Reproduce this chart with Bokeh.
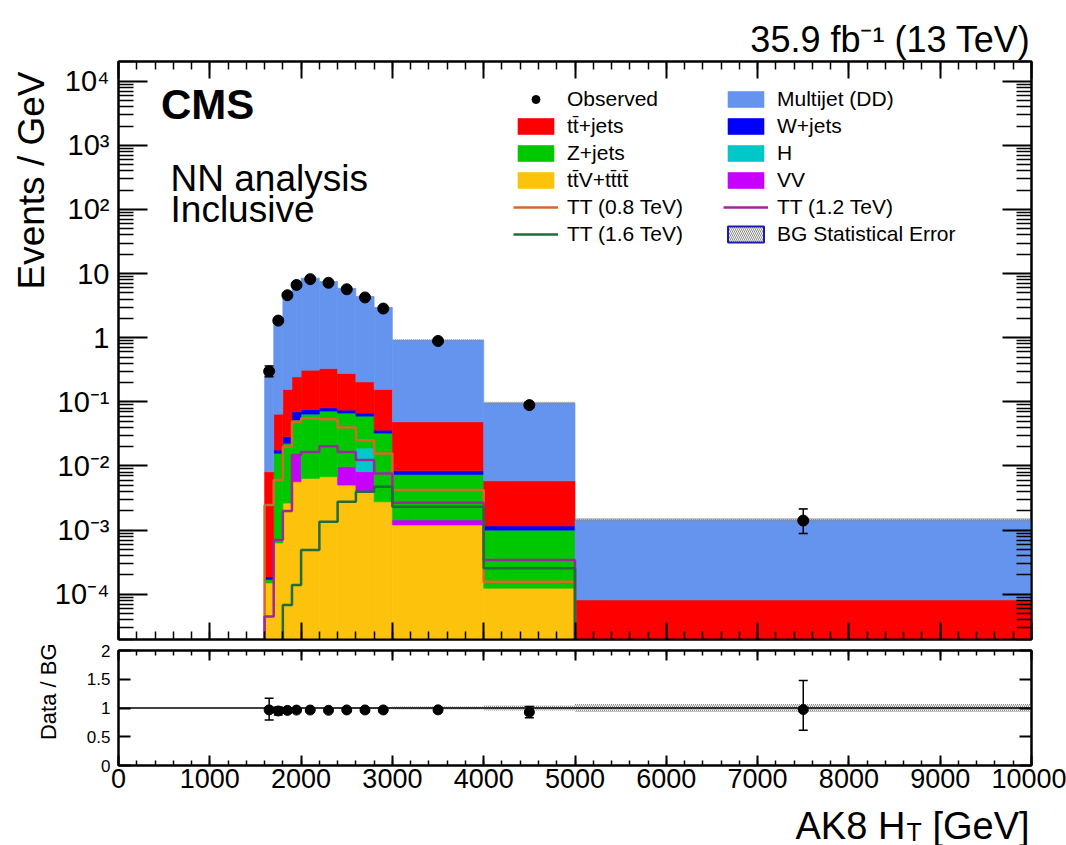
import numpy as np
from bokeh.plotting import figure
from bokeh.models import (Range1d, LinearAxis, LogAxis, FixedTicker, Legend, LegendItem,
                          Label, Title, Whisker, TeeHead, ColumnDataSource, Span)
from bokeh.layouts import column
from bokeh.embed import file_html
from bokeh.resources import INLINE

FONT = "Liberation Sans"

# AK8 HT binning [GeV]
bin_edges = [1600, 1700, 1800, 1900, 2000, 2200, 2400, 2600, 2800, 3000, 4000, 5000, 10000]

# Background expectations [events / GeV], stacked bottom -> top
ttv_tttt = [1.5e-4, 6.3e-4, 2.64e-3, 5.67e-3, 6.41e-3, 6.79e-3, 5.04e-3, 3.96e-3, 2.77e-3, 1.20e-3, 1.24e-4, 0]
diboson = [0, 0, 0, 9.1e-3, 0, 0, 4.7e-3, 4.2e-3, 0, 2.4e-4, 0, 0]
higgs = [0, 0, 0, 0, 0, 0, 0, 1.09e-2, 0, 0, 0, 0]
zjets = [2.0e-5, 1.51e-2, 1.99e-2, 3.71e-2, 5.79e-2, 6.48e-2, 5.70e-2, 4.08e-2, 2.97e-2, 5.91e-3, 8.76e-4, 0]
wjets = [1.6e-5, 2.0e-3, 6.0e-3, 1.79e-2, 1.19e-2, 9.1e-3, 7.6e-3, 6.9e-3, 3.7e-3, 1.07e-3, 1.6e-4, 0]
ttjets = [7.94e-3, 4.66e-2, 0.1275, 0.175, 0.236, 0.250, 0.203, 0.138, 0.120, 4.04e-2, 4.72e-3, 8.15e-5]
multijet = [0.302, 1.886, 4.644, 6.655, 8.188, 7.169, 5.623, 4.195, 2.794, 0.871, 0.0901, 1.368e-3]
bg_stat_rel = [0.02, 0.015, 0.012, 0.01, 0.01, 0.01, 0.012, 0.014, 0.016, 0.025, 0.045, 0.07]

# Observed data [events / GeV] with relative uncertainties
observed = [0.30, 1.85, 4.6, 6.65, 8.2, 7.2, 5.7, 4.25, 2.85, 0.89, 0.089, 1.41e-3]
obs_err_up = [0.21, 0.074, 0.047, 0.039, 0.025, 0.026, 0.030, 0.034, 0.042, 0.034, 0.106, 0.52]
obs_err_dn = [0.18, 0.074, 0.047, 0.039, 0.025, 0.026, 0.030, 0.034, 0.042, 0.034, 0.106, 0.37]

# Signal hypotheses [events / GeV]
tt_800 = [2.46e-3, 6.03e-3, 1.99e-2, 4.88e-2, 5.57e-2, 5.37e-2, 3.99e-2, 2.53e-2, 1.57e-2, 4.22e-3, 1.57e-4, 0]
tt_1200 = [4.5e-5, 7.0e-4, 1.99e-3, 1.48e-2, 1.65e-2, 2.04e-2, 1.66e-2, 1.24e-2, 7.67e-3, 2.67e-3, 3.42e-4, 0]
tt_1600 = [0, 0, 6.8e-5, 1.40e-4, 4.9e-4, 1.35e-3, 2.77e-3, 3.96e-3, 4.74e-3, 2.31e-3, 2.54e-4, 0]

y_major = [1e-4, 1e-3, 1e-2, 1e-1, 1, 10, 100, 1000, 10000]
y_major_labels = ["10⁻⁴", "10⁻³", "10⁻²", "10⁻¹", "1", "10", "10²", "10³", "10⁴"]
x_major = list(range(0, 10001, 1000))
ratio_ticks = [0, 0.5, 1, 1.5, 2]
ratio_labels = ["0", "0.5", "1", "1.5", "2"]

FLOOR = 1e-9
edges = np.array(bin_edges, dtype=float)
left, right = edges[:-1], edges[1:]
centers = 0.5 * (left + right)

layers = [
    ("tt̄V+tt̄tt̄", ttv_tttt, "#fcc20c"),
    ("VV", diboson, "#c800ff"),
    ("H", higgs, "#00c8c8"),
    ("Z+jets", zjets, "#00c800"),
    ("W+jets", wjets, "#0000ff"),
    ("tt̄+jets", ttjets, "#ff0000"),
    ("Multijet (DD)", multijet, "#6494ed"),
]

p = figure(width=1066, height=641, y_axis_type="log",
           x_range=Range1d(0, 10000), y_range=Range1d(1.97e-5, 2.03e4),
           output_backend="svg", toolbar_location=None,
           min_border_left=118, min_border_right=35, min_border_top=61, min_border_bottom=2)
p.grid.visible = False
p.outline_line_color = "black"
p.outline_line_width = 2

# stacked backgrounds
renderers = {}
cum = np.zeros(len(left))
for name, vals, color in layers:
    v = np.array(vals, dtype=float)
    top = cum + v
    bottom = np.where(cum > 0, cum, FLOOR)
    mask = v > 0
    src = ColumnDataSource(dict(left=left[mask], right=right[mask],
                                bottom=bottom[mask], top=top[mask]))
    renderers[name] = p.quad(left="left", right="right", bottom="bottom", top="top",
                             source=src, fill_color=color, line_color=color, line_width=0.6)
    cum = top
total_bg = cum.copy()

# background statistical uncertainty
err = np.array(bg_stat_rel)
band = dict(left=left, right=right, bottom=total_bg * (1 - err), top=total_bg * (1 + err))
hatch = dict(hatch_pattern="\\", hatch_color="#8a8a8a", hatch_scale=4, hatch_weight=1)
p.quad(**band, fill_alpha=0, line_color=None, **hatch)
err_legend = p.quad(**band, fill_color="white", line_color="#1a1ab0", line_width=2,
                    visible=False, **hatch)


def step_path(vals):
    xs, ys = [edges[0]], [FLOOR]
    for i, v in enumerate(vals):
        y = v if v > 0 else FLOOR
        xs += [edges[i], edges[i + 1]]
        ys += [y, y]
    xs.append(edges[-1])
    ys.append(FLOOR)
    return xs, ys


sig_r = {}
for name, vals, color in [("TT (0.8 TeV)", tt_800, "#d26a2a"),
                          ("TT (1.2 TeV)", tt_1200, "#a0269f"),
                          ("TT (1.6 TeV)", tt_1600, "#236b3b")]:
    xs, ys = step_path(vals)
    sig_r[name] = p.line(xs, ys, line_color=color, line_width=2.5)

# observed data
obs = np.array(observed)
up = obs * (1 + np.array(obs_err_up))
dn = obs * (1 - np.array(obs_err_dn))
obs_src = ColumnDataSource(dict(x=centers, y=obs, upper=up, lower=dn))
p.add_layout(Whisker(base="x", upper="upper", lower="lower", source=obs_src, dimension="height",
                     line_color="black", line_width=1.5, level="overlay",
                     upper_head=TeeHead(size=9, line_width=1.5, line_color="black"),
                     lower_head=TeeHead(size=9, line_width=1.5, line_color="black")))
obs_r = p.scatter("x", "y", source=obs_src, size=11, color="black")


# axes: ticks inside on all four sides
def style_axis(ax, major_in, minor_in, labels=True, size="25px"):
    ax.major_tick_in = major_in
    ax.major_tick_out = 0
    ax.minor_tick_in = minor_in
    ax.minor_tick_out = 0
    ax.axis_line_width = 2
    ax.major_tick_line_width = 2
    ax.minor_tick_line_width = 1.5
    ax.major_label_text_font = FONT
    if labels:
        ax.major_label_text_font_size = size
        ax.major_label_text_color = "black"
    else:
        ax.major_label_text_font_size = "4px"
        ax.major_label_text_color = None
        ax.major_label_standoff = 0


x_ticker = FixedTicker(ticks=x_major, minor_ticks=list(range(0, 10001, 200)))
y_minor = [k * 10.0 ** d for d in range(-5, 5) for k in range(2, 10)]
y_ticker = FixedTicker(ticks=y_major, minor_ticks=y_minor)

p.xaxis.ticker = x_ticker
style_axis(p.xaxis[0], 17, 8, labels=False)
p.add_layout(LinearAxis(ticker=x_ticker), "above")
style_axis(p.above[0], 17, 8, labels=False)
p.yaxis.ticker = y_ticker
p.yaxis.major_label_overrides = dict(zip(y_major, y_major_labels))
style_axis(p.yaxis[0], 29, 15, labels=True, size="29px")
p.yaxis.major_label_standoff = 9
p.add_layout(LogAxis(ticker=y_ticker), "right")
style_axis(p.right[0], 29, 15, labels=False)


# legend in two columns
def make_legend(items, x):
    return Legend(items=items, location=(x, 392), orientation="vertical",
                  label_text_font=FONT, label_text_font_size="21px", label_text_color="black",
                  glyph_width=45, glyph_height=20, label_height=27, spacing=0,
                  label_standoff=9, padding=0, margin=0, inactive_fill_alpha=0,
                  border_line_alpha=0, background_fill_alpha=0)


col1 = [LegendItem(label="Observed", renderers=[obs_r]),
        LegendItem(label="tt̄+jets", renderers=[renderers["tt̄+jets"]]),
        LegendItem(label="Z+jets", renderers=[renderers["Z+jets"]]),
        LegendItem(label="tt̄V+tt̄tt̄", renderers=[renderers["tt̄V+tt̄tt̄"]]),
        LegendItem(label="TT (0.8 TeV)", renderers=[sig_r["TT (0.8 TeV)"]]),
        LegendItem(label="TT (1.6 TeV)", renderers=[sig_r["TT (1.6 TeV)"]])]
col2 = [LegendItem(label="Multijet (DD)", renderers=[renderers["Multijet (DD)"]]),
        LegendItem(label="W+jets", renderers=[renderers["W+jets"]]),
        LegendItem(label="H", renderers=[renderers["H"]]),
        LegendItem(label="VV", renderers=[renderers["VV"]]),
        LegendItem(label="TT (1.2 TeV)", renderers=[sig_r["TT (1.2 TeV)"]]),
        LegendItem(label="BG Statistical Error", renderers=[err_legend])]
p.add_layout(make_legend(col1, 395))
p.add_layout(make_legend(col2, 605))

# texts inside the frame
p.add_layout(Label(x=465, y=4300, text="CMS", text_font=FONT, text_font_style="bold",
                   text_font_size="42px", text_color="black", text_baseline="alphabetic"))
p.add_layout(Label(x=570, y=305, text="NN analysis", text_font=FONT, text_color="black",
                   text_font_size="37px", text_baseline="alphabetic"))
p.add_layout(Label(x=570, y=100, text="Inclusive", text_font=FONT, text_color="black",
                   text_font_size="37px", text_baseline="alphabetic"))

# titles outside the frame
p.add_layout(Title(text="35.9 fb⁻¹ (13 TeV)", align="right", text_font=FONT,
                   text_font_size="36px", text_font_style="normal", text_color="black",
                   standoff=3, offset=1), "above")
p.add_layout(Title(text="Events / GeV", align="right", text_font=FONT,
                   text_font_size="37px", text_font_style="normal", text_color="black",
                   text_line_height=0.55, standoff=0, offset=10), "left")

# ratio panel
r = figure(width=1066, height=159, x_range=Range1d(0, 10000), y_range=Range1d(0, 2),
           output_backend="svg", toolbar_location=None,
           min_border_left=118, min_border_right=35, min_border_top=9, min_border_bottom=35)
r.grid.visible = False
r.outline_line_color = "black"
r.outline_line_width = 2

r.quad(left=left, right=right, bottom=1 - err, top=1 + err, fill_alpha=0, line_color=None,
       **hatch)
r.add_layout(Span(location=1, dimension="width", line_color="black", line_width=1.5))

ratio = obs / total_bg
rsrc = ColumnDataSource(dict(x=centers, y=ratio, upper=up / total_bg, lower=dn / total_bg))
r.add_layout(Whisker(base="x", upper="upper", lower="lower", source=rsrc, dimension="height",
                     line_color="black", line_width=1.5, level="overlay",
                     upper_head=TeeHead(size=9, line_width=1.5, line_color="black"),
                     lower_head=TeeHead(size=9, line_width=1.5, line_color="black")))
r.scatter("x", "y", source=rsrc, size=10, color="black")

r.xaxis.ticker = x_ticker
r.xaxis.major_label_overrides = {t: str(t) for t in x_major}
style_axis(r.xaxis[0], 10, 5, labels=True, size="27px")
r.xaxis.major_label_standoff = 3
r.add_layout(LinearAxis(ticker=x_ticker), "above")
style_axis(r.above[0], 10, 5, labels=False)
ratio_ticker = FixedTicker(ticks=ratio_ticks, minor_ticks=[])
r.yaxis.ticker = ratio_ticker
r.yaxis.major_label_overrides = dict(zip(ratio_ticks, ratio_labels))
style_axis(r.yaxis[0], 12, 0, labels=True, size="17px")
r.yaxis.major_label_standoff = 8
r.add_layout(LinearAxis(ticker=ratio_ticker), "right")
style_axis(r.right[0], 12, 0, labels=False)
r.add_layout(Title(text="Data / BG", align="right", text_font=FONT, text_font_size="22px",
                   text_font_style="normal", text_color="black", standoff=45, offset=-7),
             "left")

# x-axis title strip: frame spans the same pixels as the panels above,
# so data units equal page pixels
s = figure(width=1066, height=45, x_range=Range1d(118, 1031), y_range=Range1d(0, 45),
           output_backend="svg", toolbar_location=None,
           min_border_left=118, min_border_right=35, min_border_top=0, min_border_bottom=0,
           x_axis_location=None, y_axis_location=None)
s.grid.visible = False
s.outline_line_color = None
s.add_layout(Label(x=795, y=20, text="AK8 H", text_font=FONT, text_font_size="38px",
                   text_color="black", text_align="left", text_baseline="alphabetic"))
s.add_layout(Label(x=906, y=14, text="T", text_font=FONT, text_font_size="25px",
                   text_color="black", text_align="left", text_baseline="alphabetic"))
s.add_layout(Label(x=932, y=20, text="[GeV]", text_font=FONT, text_font_size="38px",
                   text_color="black", text_align="left", text_baseline="alphabetic"))

layout = column(p, r, s, spacing=0)
open("out.html", "w").write(file_html(layout, INLINE))
